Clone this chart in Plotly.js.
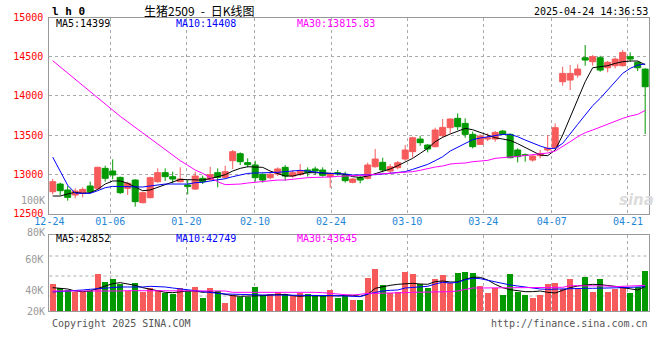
<!DOCTYPE html>
<html><head><meta charset="utf-8">
<script src="https://cdn.plot.ly/plotly-3.0.1.min.js"></script>
<style>html,body{margin:0;padding:0;background:#fff;}#chart{width:660px;height:360px;}</style>
</head><body><div id="chart"></div>
<script>
const dates = ['12-24','12-25','12-26','12-27','12-30','12-31',
 '01-02','01-03','01-06','01-07','01-08','01-09','01-10','01-13','01-14','01-15','01-16','01-17','01-20','01-21','01-22','01-23','01-24','01-27',
 '02-05','02-06','02-07','02-10','02-11','02-12','02-13','02-14','02-17','02-18','02-19','02-20','02-21','02-24','02-25','02-26','02-27','02-28',
 '03-03','03-04','03-05','03-06','03-07','03-10','03-11','03-12','03-13','03-14','03-17','03-18','03-19','03-20','03-21','03-24','03-25','03-26','03-27','03-28','03-31',
 '04-01','04-02','04-03','04-07','04-08','04-09','04-10','04-11','04-14','04-15','04-16','04-17','04-18','04-21','04-22','04-23','04-24'];

const openP = [12778,12876,12800,12736,12757,12851,12821,13076,13042,12961,
 12821,12927,12638,12702,12906,13021,12970,12906,12864,12812,
 12949,12936,13021,12962,13174,13263,13149,13119,13000,12957,
 13004,13089,12978,12999,13055,13068,13055,12970,13021,12999,
 12898,12957,12949,13097,13153,13042,13085,13195,13289,13450,
 13374,13353,13493,13595,13714,13650,13510,13382,13450,13450,
 13552,13510,13310,13250,13182,13238,13310,13340,14182,14203,
 14267,14488,14437,14488,14360,14386,14386,14501,14429,14343];
const highP = [12940,12894,12851,12821,12834,12906,13097,13110,13191,12970,
 12906,12936,12778,12970,13076,13076,13034,13089,12927,13034,
 12983,13097,13076,13110,13310,13280,13204,13174,13012,13034,
 13089,13119,13055,13131,13089,13098,13089,13021,13055,13034,
 12949,12978,13148,13323,13212,13131,13170,13374,13480,13493,
 13382,13595,13706,13710,13778,13714,13544,13510,13523,13552,
 13565,13523,13331,13267,13246,13310,13502,13650,14373,14394,
 14403,14650,14522,14513,14446,14492,14586,14556,14440,14352];
const lowP = [12744,12736,12664,12693,12706,12757,12800,12906,12936,12749,
 12736,12587,12630,12693,12894,12915,12885,12898,12744,12800,
 12876,12919,12834,12940,13068,13119,13089,12906,12894,12936,
 12978,12919,12957,12978,12970,12991,12970,12829,12983,12894,
 12885,12885,12936,13085,13025,13000,13063,13174,13216,13365,
 13280,13344,13467,13523,13565,13467,13331,13374,13425,13416,
 13500,13204,13153,13161,13161,13204,13289,13331,14131,14076,
 14233,14386,14386,14309,14301,14352,14373,14437,14318,13514];
const closeP = [12906,12791,12706,12787,12808,12778,13089,12949,12991,12766,
 12885,12651,12766,12957,13021,12970,12940,12940,12846,12978,
 12906,12995,12962,13034,13289,13161,13123,12957,12927,13000,
 13068,12978,13021,13046,13021,13042,12987,13012,13004,12919,
 12940,12927,13119,13195,13055,13097,13148,13310,13467,13404,
 13323,13565,13599,13706,13608,13510,13353,13489,13467,13535,
 13510,13212,13225,13242,13233,13267,13331,13595,14288,14288,
 14343,14458,14501,14330,14429,14471,14556,14471,14360,14118];

const ma5 = [12723,12723,12749,12770,12757,12766,12808,12876,12915,12915,
 12885,12834,12791,12800,12834,12876,12910,12936,12932,12932,
 12927,12944,12970,12995,13042,13076,13097,13097,13089,13042,
 13012,12978,12978,13004,13021,13021,13012,13012,13012,12999,
 12970,12961,12978,13008,13038,13068,13110,13153,13204,13267,
 13331,13416,13472,13514,13552,13586,13569,13535,13493,13467,
 13450,13433,13391,13340,13289,13246,13238,13310,13501,13723,
 13948,14182,14360,14373,14386,14416,14437,14446,14446,14399];
const ma10 = [13220,13040,12860,12760,12755,12757,12791,12829,12846,12846,
 12846,12842,12838,12851,12868,12876,12876,12876,12876,12893,
 12898,12915,12927,12944,12970,12995,13012,13017,13017,13021,
 13025,13034,13042,13051,13042,13025,13017,13012,13012,13004,
 12991,12991,12991,12995,13004,13017,13021,13034,13063,13093,
 13127,13174,13225,13297,13344,13400,13442,13463,13476,13493,
 13510,13510,13480,13438,13395,13361,13331,13331,13395,13523,
 13638,13757,13876,13969,14075,14182,14288,14352,14394,14408];
const ma30 = [14450,14370,14290,14210,14130,14050,13970,13890,13810,13740,
 13670,13600,13525,13450,13380,13310,13240,13175,13115,13055,
 13012,12960,12906,12868,12868,12876,12889,12898,12915,12923,
 12927,12927,12936,12953,12957,12961,12961,12966,12974,12978,
 12978,12983,12991,13000,13008,13012,13021,13025,13034,13051,
 13076,13093,13106,13131,13140,13144,13161,13170,13178,13204,
 13216,13221,13229,13238,13246,13259,13272,13297,13353,13416,
 13480,13531,13565,13603,13646,13684,13714,13744,13765,13816];

const volume = [44515,41720,40645,39140,39140,40000,50965,45805,47740,44515,
 40000,45160,39355,41720,40430,38925,38065,41935,39785,42580,
 35485,41935,40000,32475,37420,36345,36345,42580,37420,38065,
 39570,38065,36990,38495,38065,36990,36990,40645,35700,36990,
 34195,34195,48600,54405,43870,38495,39570,52470,51180,44300,
 42150,47740,50320,44945,51610,52255,51610,43225,38710,41720,
 37420,50965,39355,37420,35700,37420,44515,45160,41290,47740,
 42150,49030,39355,47740,39355,41290,42365,38710,42580,52900];
const volMa5 = [42150,41720,41290,40000,39570,40000,41720,43225,44730,45375,
 44515,43655,42150,41075,40215,39140,38925,39570,40000,40000,
 39140,39570,38710,37635,36990,36560,36560,36560,36990,37420,
 37635,37850,36990,36560,36990,36775,36775,36990,36775,37205,
 37205,36560,37850,41720,42795,43655,44300,44730,44945,44515,
 44300,46020,46450,45805,45805,47525,48815,48815,47095,44300,
 42150,40860,40000,39570,39570,40000,39140,38710,40430,42150,
 43225,43870,44300,44085,43655,43010,42150,41290,40645,42852];
const volMa10 = [39355,39570,40000,40430,40645,41075,41505,42150,42580,42580,
 42580,42365,42580,43010,43010,42580,41935,41290,40645,40000,
 39355,38925,38495,38065,37850,37850,37850,37635,37420,37420,
 37420,37420,37420,37420,37420,37205,36990,36990,36990,36775,
 36560,36345,38065,39140,40000,40430,40645,41935,42150,42580,
 43010,44515,45590,45160,45590,47310,48170,47955,46880,45590,
 44515,43870,43225,42580,41720,41290,41075,41290,41290,41290,
 41505,41720,41720,41720,41720,41935,42150,42365,42580,42749];
const volMa30 = [40000,40000,40000,39570,39785,39785,40000,40000,40000,40000,
 40215,40215,40430,40430,40430,40430,40430,40430,40430,40430,
 40430,40430,40000,40000,39140,39140,39140,39140,39570,39570,
 39570,39570,39570,39570,39355,39140,38925,38710,38065,37635,
 37420,37850,38495,38495,38495,38925,38925,38925,39140,39140,
 39140,39570,39570,39570,40000,40860,41935,41935,41935,42150,
 42150,42150,42150,42150,42150,42150,42150,42365,42365,43440,
 43440,43440,43440,43440,43225,42795,43010,43645,43645,43645];

const dateTickLabels = ['12-24','01-06','01-20','02-10','02-24','03-10','03-24','04-07','04-21'];
const priceTicks = [12500,13000,13500,14000,14500,15000];
const volTicks = [60000,40000];
const volTickLabels = ['60K','40K'];

const RED = '#f65a5a', GREEN = '#009900';
const MONO = 'DejaVu Sans Mono';
const idx = dates.map((d, i) => i);
const tickPos = dateTickLabels.map(l => 1.015 * dates.indexOf(l) - 0.44);
const volColors = closeP.map((c, i) => c >= openP[i] ? RED : GREEN);

const traces = [
 {type:'candlestick', x: idx, open: openP, high: highP, low: lowP, close: closeP,
  increasing:{line:{color:RED,width:1}, fillcolor:RED},
  decreasing:{line:{color:GREEN,width:1}, fillcolor:GREEN},
  whiskerwidth:0, xaxis:'x', yaxis:'y', hoverinfo:'skip', showlegend:false},
 {type:'scatter', mode:'lines', x: idx, y: ma5, line:{color:'#000',width:1}, xaxis:'x', yaxis:'y', hoverinfo:'skip'},
 {type:'scatter', mode:'lines', x: idx, y: ma10, line:{color:'#0000ff',width:1}, xaxis:'x', yaxis:'y', hoverinfo:'skip'},
 {type:'scatter', mode:'lines', x: idx, y: ma30, line:{color:'#ff00ff',width:1}, xaxis:'x', yaxis:'y', hoverinfo:'skip'},
 {type:'bar', x: idx, y: volume, width:0.8, marker:{color: volColors, line:{width:0}}, xaxis:'x2', yaxis:'y2', hoverinfo:'skip'},
 {type:'scatter', mode:'lines', x: idx, y: volMa5, line:{color:'#000',width:1}, xaxis:'x2', yaxis:'y2', hoverinfo:'skip'},
 {type:'scatter', mode:'lines', x: idx, y: volMa10, line:{color:'#0000ff',width:1}, xaxis:'x2', yaxis:'y2', hoverinfo:'skip'},
 {type:'scatter', mode:'lines', x: idx, y: volMa30, line:{color:'#ff00ff',width:1}, xaxis:'x2', yaxis:'y2', hoverinfo:'skip'}
];

const px = v => v / 660;
const py = v => 1 - v / 360;
const xDom = [px(49.4), px(649.3)];
const grid = {showgrid:true, gridcolor:'#aaaaaa', griddash:'dot', gridwidth:1, zeroline:false,
  showline:true, linecolor:'#999999', linewidth:1, mirror:true, ticks:'', fixedrange:true};

function ann(text, x, y, color, xanchor, size, extra) {
  return Object.assign({text, x: px(x), y: py(y), xref:'paper', yref:'paper', showarrow:false,
    xanchor: xanchor, yanchor:'middle', font:{family: MONO, size: size || 10, color: color}}, extra || {});
}

const layout = {
  width:660, height:360, margin:{l:0,r:0,t:0,b:0}, paper_bgcolor:'#fff', plot_bgcolor:'#fff',
  showlegend:false, boxgap:0.2, boxgroupgap:0, bargap:0,
  xaxis: Object.assign({}, grid, {domain:xDom, range:[-0.44, 79.55], anchor:'y',
    rangeslider:{visible:false},
    tickmode:'array', tickvals: tickPos, ticktext: dateTickLabels,
    tickfont:{family:MONO, size:10, color:'#1f86d6'}, ticklabelstandoff:-2}),
  yaxis: Object.assign({}, grid, {domain:[py(213.5), py(17.6)], range:[12500,15000], anchor:'x',
    tickmode:'array', tickvals: priceTicks, ticktext: priceTicks.map(String),
    tickfont:{family:MONO, size:10, color:'#ff0000'}, ticklabelstandoff:3}),
  xaxis2: Object.assign({}, grid, {domain:xDom, range:[-0.44, 79.55], anchor:'y2',
    rangeslider:{visible:false},
    tickmode:'array', tickvals: tickPos, showticklabels:false}),
  yaxis2: Object.assign({}, grid, {domain:[py(311), py(235)], range:[27100,76100], anchor:'x2', showgrid:false,
    tickmode:'array', tickvals: volTicks, ticktext: volTickLabels,
    tickfont:{family:MONO, size:10, color:'#999999'}, ticklabelstandoff:3}),
  shapes: [256, 276, 296].map(y => ({type:'line', xref:'paper', yref:'paper', x0:xDom[0], x1:xDom[1], y0:py(y), y1:py(y),
    line:{color:'#aaaaaa', width:1, dash:'dot'}, layer:'below'})),
  annotations: [
    {text:'生猪2509\u2002-\u2002日K线图', x:px(199), y:py(10.5), xref:'paper', yref:'paper', showarrow:false, xanchor:'center', yanchor:'middle',
     font:{family:'Noto Sans CJK SC', size:12, color:'#000'}},
    ann('<b>l h 0</b>', 50, 11, '#000', 'left', 11),
    ann('2025-04-24 14:36:53', 649.5, 11.5, '#000', 'right', 10),
    ann('MA5:14399', 54, 24, '#000', 'left', 10),
    ann('MA10:14408', 174, 24, '#0000ff', 'left', 10),
    ann('MA30:13815.83', 294.5, 24, '#ff00ff', 'left', 10),
    ann('MA5:42852', 54, 238.5, '#000', 'left', 10),
    ann('MA10:42749', 174, 238.5, '#0000ff', 'left', 10),
    ann('MA30:43645', 294.5, 238.5, '#ff00ff', 'left', 10),
    ann('100K', 46.5, 200, '#999999', 'right', 10),
    ann('80K', 46.5, 232, '#999999', 'right', 10),
    ann('20K', 46.5, 311, '#999999', 'right', 10),
    ann('Copyright 2025 SINA.COM', 49.5, 323.5, '#555555', 'left', 10),
    ann('http://finance.sina.com.cn', 649.5, 323.5, '#555555', 'right', 10),
    {text:'<b><i>sina</i></b>', x:px(636), y:py(200), xref:'paper', yref:'paper', showarrow:false, xanchor:'center', yanchor:'middle',
     font:{family:'DejaVu Sans', size:15, color:'#dcdcdc'}}
  ]
};

Plotly.newPlot('chart', traces, layout, {displayModeBar:false, staticPlot:true});
</script></body></html>
